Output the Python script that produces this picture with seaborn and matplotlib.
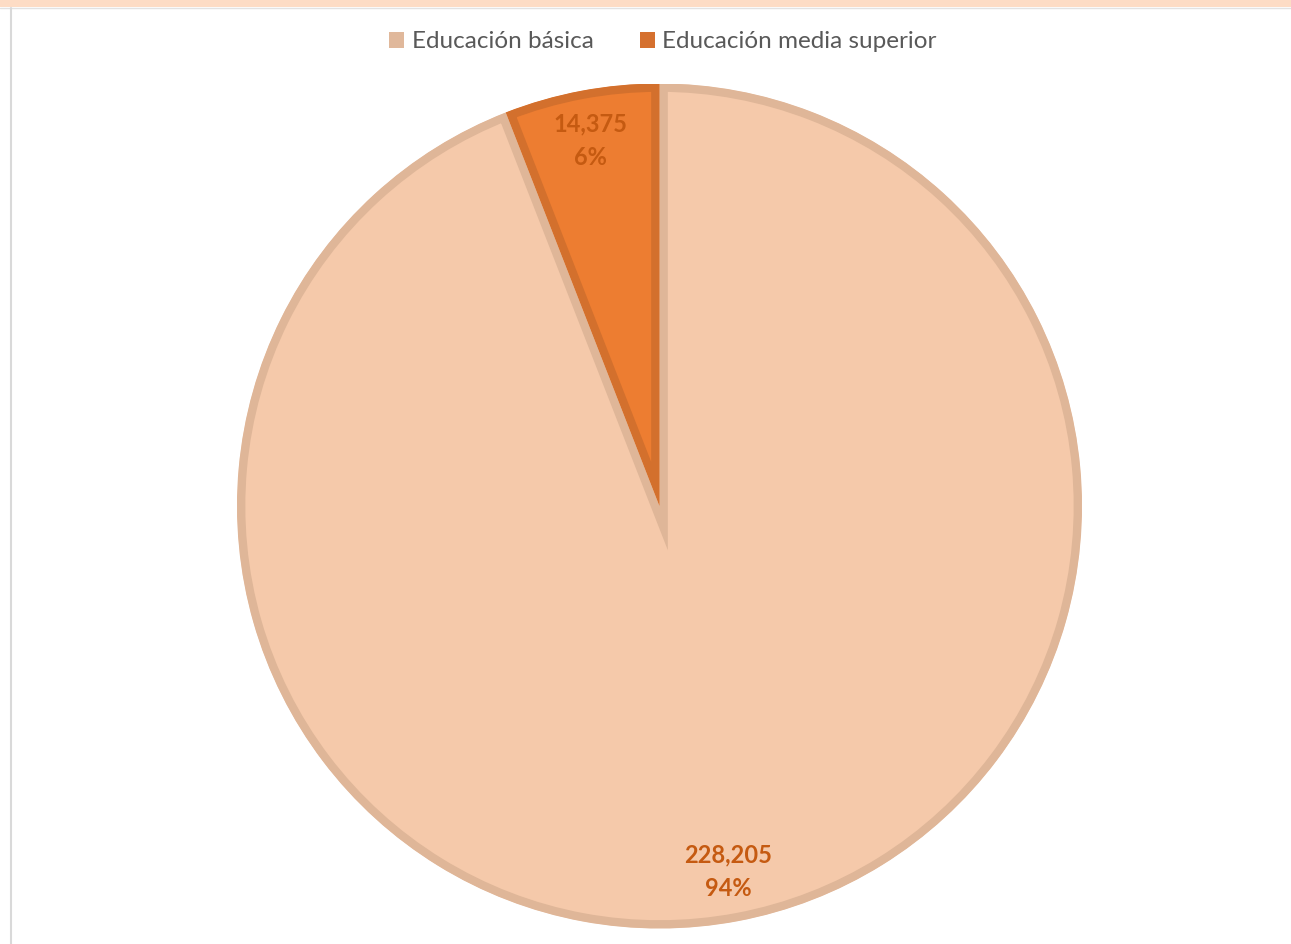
import matplotlib
matplotlib.use("Agg")
import matplotlib.pyplot as plt
import seaborn as sns
from matplotlib.patches import Patch, Rectangle
from matplotlib.lines import Line2D

# ---- data ----
categories = ["Educación básica", "Educación media superior"]
values = [228205, 14375]

# ---- styles ----
fill_colors = ["#F5C9AA", "#ED7D31"]
edge_colors = ["#DFB698", "#D3702D"]
legend_colors = ["#E0B89B", "#D5702E"]
label_color = "#C55A11"
legend_text_color = "#595959"

sns.set_style("white")
plt.rcParams["font.family"] = ["Lato", "DejaVu Sans"]

W, H, DPI = 1291, 944, 100
fig = plt.figure(figsize=(W / DPI, H / DPI), dpi=DPI)
fig.patch.set_facecolor("white")

# decorative frame: peach band at top and grey left rule
fig.add_artist(Rectangle((0, 1 - 7 / H), 1, 7 / H, transform=fig.transFigure,
                         facecolor="#FDDCC5", edgecolor="none"))
fig.add_artist(Line2D([0, 1], [1 - 7.5 / H, 1 - 7.5 / H], transform=fig.transFigure,
                      color="#E2E2E2", lw=1))
fig.add_artist(Line2D([10.5 / W, 10.5 / W], [0, 1 - 7.5 / H], transform=fig.transFigure,
                      color="#D9D9D9", lw=1.5))

# pie axes: centre (659.5, 506) px, radius 422.5 px
cx, cy, R = 659.5, 506.0, 422.5
ax = fig.add_axes([(cx - R) / W, (H - cy - R) / H, 2 * R / W, 2 * R / H])

total = sum(values)
wedges, texts, autotexts = ax.pie(
    values,
    colors=fill_colors,
    startangle=90,
    counterclock=False,
    radius=1.0,
    autopct=lambda p: "",
    pctdistance=0.88,
    wedgeprops=dict(linewidth=12.0, joinstyle="miter"),
)
for w, ec in zip(wedges, edge_colors):
    w.set_edgecolor(ec)
    w.set_clip_on(True)
    w.set_clip_path(w)

for t, v in zip(autotexts, values):
    pct = round(100 * v / total)
    t.set_text(f"{v:,}\n{pct}%")
    t.set_color(label_color)
    t.set_fontsize(17)
    t.set_fontweight("bold")
    t.set_linespacing(1.55)

ax.set_xlim(-1, 1)
ax.set_ylim(-1, 1)
ax.set_aspect("auto")
ax.axis("off")

handles = [Patch(facecolor=c, edgecolor="none") for c in legend_colors]
leg = fig.legend(handles, categories, loc="center", ncol=2,
                 bbox_to_anchor=(663 / W, 1 - 42 / H), frameon=False,
                 fontsize=17.5, handlelength=0.62, handleheight=0.62,
                 handletextpad=0.3, columnspacing=1.9, borderpad=0)
for txt in leg.get_texts():
    txt.set_color(legend_text_color)

fig.savefig("out.png", dpi=DPI)
